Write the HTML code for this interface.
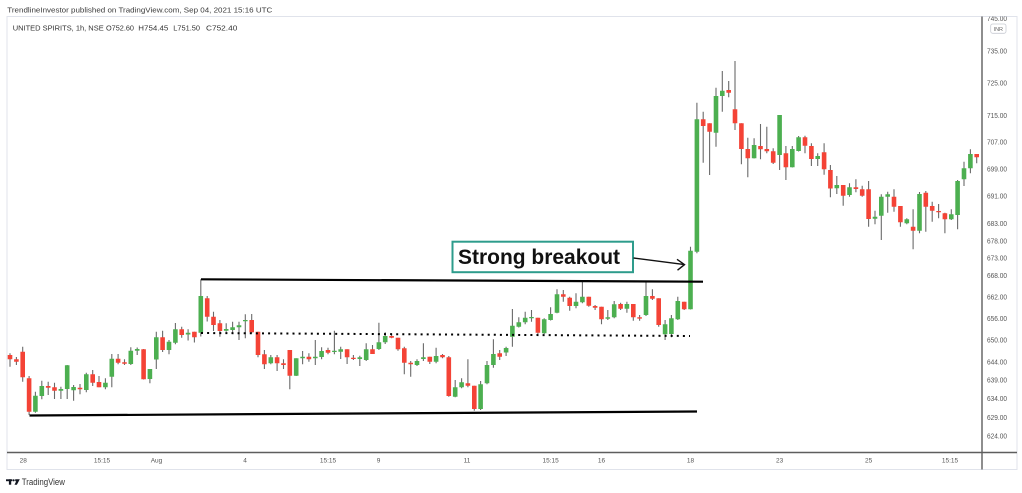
<!DOCTYPE html>
<html><head><meta charset="utf-8"><style>
html,body{margin:0;padding:0;background:#fff;width:1022px;height:493px;overflow:hidden}
svg{display:block;font-family:"Liberation Sans",Arial,sans-serif}
</style></head><body>
<svg width="1022" height="493" viewBox="0 0 1022 493" xmlns="http://www.w3.org/2000/svg">
<defs><clipPath id="pa"><rect x="983" y="16.5" width="34" height="435"/></clipPath></defs>
<rect width="1022" height="493" fill="#fff"/>
<text x="7.3" y="12.6" font-size="7.5" fill="#3a3a3a" textLength="265" lengthAdjust="spacingAndGlyphs">TrendlineInvestor published on TradingView.com, Sep 04, 2021 15:16 UTC</text>
<rect x="7" y="16.5" width="1010" height="453" fill="none" stroke="#e0e3eb" stroke-width="1"/>
<text y="30.5" font-size="7.5" fill="#333"><tspan x="12.7" textLength="91" lengthAdjust="spacingAndGlyphs">UNITED SPIRITS, 1h, NSE</tspan></text>
<text y="30.5" font-size="7.5" fill="#333" x="106" textLength="28" lengthAdjust="spacingAndGlyphs">O752.60</text>
<text y="30.5" font-size="7.5" fill="#333" x="138.3" textLength="30" lengthAdjust="spacingAndGlyphs">H754.45</text>
<text y="30.5" font-size="7.5" fill="#333" x="173.3" textLength="26.7" lengthAdjust="spacingAndGlyphs">L751.50</text>
<text y="30.5" font-size="7.5" fill="#333" x="206" textLength="31.3" lengthAdjust="spacingAndGlyphs">C752.40</text>

<!-- wicks -->
<path fill="none" stroke="#6a6a6a" stroke-width="1.1" d="M10.0 353.3V366.7M16.4 357V365M22.7 346.7V381.7M29.1 376V415M35.4 391.7V412.7M41.8 380.7V399.3M48.2 381.7V395M54.5 382.7V399M60.9 386.7V399M67.2 365V399M73.6 385V400.7M80.0 384V394.3M86.3 372.7V392.3M92.7 370V386M99.0 376V387.3M105.4 378.3V389.3M111.8 354V387.3M118.1 354V364.3M124.5 359.3V365M130.8 347.3V365M137.2 347.5V355M143.6 349V379.5M149.9 369V383.3M156.3 331.7V369M162.6 330.7V352M169.0 340V354.3M175.4 323V344.3M181.7 326.7V337.7M188.1 329.3V340.5M194.4 331.7V342.5M200.8 279.3V336.5M207.2 296V321.5M213.5 311.7V331M219.9 320V336.7M226.2 323.3V331.7M232.6 321.7V333.3M239.0 321.7V340M245.3 314.3V338.3M251.7 314V333.3M258.0 331.7V357.3M264.4 350V369M270.8 355V364.3M277.1 355V371M283.5 359.3V369M289.8 350V389.3M296.2 358.3V376M302.6 351V364.3M308.9 353.3V361.7M315.3 340V365M321.6 347.3V359.3M328.0 347.7V354.3M334.4 330.7V354.3M340.7 346.7V359M347.1 349.3V364M353.4 355V360M359.8 355.7V366M366.2 343.3V361M372.5 345V354M378.9 322.7V350M385.2 332.3V344M391.6 334.3V338.3M398.0 337.7V350.7M404.3 346.7V374.3M410.7 361V376.7M417.0 359.3V366M423.4 343.3V361M429.8 356.7V364M436.1 347.7V363.3M442.5 354V358.3M448.8 356V396.7M455.2 380V397.3M461.6 378.3V388.3M467.9 359.3V387.3M474.3 385.7V410.7M480.6 381V410M487.0 361V384.3M493.4 339.3V367.7M499.7 350V360M506.1 346.7V356M512.4 309V346.7M518.8 317.3V327.5M525.2 311.7V324.3M531.5 310V321.7M537.9 317.7V334M544.2 318.3V334M550.6 307.3V320.5M557.0 289.3V313.3M563.3 290V301.7M569.7 296.7V310.7M576.0 293.3V308.3M582.4 281.7V303.3M588.8 296.7V306.7M595.1 305V310M601.5 306.7V324.3M607.8 310V320M614.2 301V318.3M620.6 302.7V310M626.9 301.7V312.7M633.3 304V320.7M639.6 315V320.7M646.0 281.7V316M652.4 289.3V300M658.7 298.3V326.7M665.1 320V340M671.4 315V337.3M677.8 296.7V320M684.2 301.7V310M690.5 246.7V309.5M696.9 102.7V253.3M703.2 111.7V162.7M709.6 123.3V175M716.0 87.7V146.7M722.3 71V111.7M728.7 81V97.3M735.0 61V130M741.4 123.3V164.3M747.8 137.7V177.3M754.1 138.3V158.5M760.5 124V159.3M766.8 126.7V153.3M773.2 148.3V164M779.6 115V170M785.9 146V180M792.3 146V167.5M798.6 136V151.5M805.0 135.7V153.3M811.4 143.3V166M817.7 153.3V166M824.1 143.3V174.7M830.4 165V197.3M836.8 176V194M843.2 185V205.7M849.5 183.3V196.7M855.9 179.3V192.3M862.2 185.7V196.7M868.6 181V226.7M875.0 210.7V224.3M881.3 194.3V240M887.7 191.7V212.7M894.0 189.3V211.7M900.4 206V226.7M906.8 218.3V224.3M913.1 209.3V249.3M919.5 192V233.3M925.8 191V231.7M932.2 201.7V221.7M938.6 204V218.3M944.9 212.7V233.3M951.3 209.3V220M957.6 180V229.3M964.0 161.7V186M970.4 149.3V173.3M976.7 154V163.3"/>

<!-- green bodies -->
<path fill="#4caf50" d="M33.1 395.7h4.6V411.7h-4.6zM39.5 386h4.6V396h-4.6zM58.6 389h4.6V390.7h-4.6zM64.9 365.3h4.6V389h-4.6zM71.3 387h4.6V390.3h-4.6zM84.0 374.3h4.6V390h-4.6zM103.1 382.7h4.6V387.3h-4.6zM109.5 358.7h4.6V376.7h-4.6zM128.5 350.7h4.6V364h-4.6zM134.9 349h4.6V350.7h-4.6zM147.6 369h4.6V379h-4.6zM154.0 337.3h4.6V359.5h-4.6zM166.7 341.7h4.6V350h-4.6zM173.1 329.3h4.6V342.7h-4.6zM185.8 332.7h4.6V334.5h-4.6zM198.5 296h4.6V332.7h-4.6zM223.9 329h4.6V330.7h-4.6zM230.3 327.3h4.6V330h-4.6zM236.7 325.3h4.6V327.3h-4.6zM243.0 320h4.6V321.3h-4.6zM268.5 357.3h4.6V363.3h-4.6zM293.9 358.3h4.6V375.7h-4.6zM300.3 356.7h4.6V358.3h-4.6zM313.0 356.7h4.6V358.3h-4.6zM319.3 351h4.6V357h-4.6zM332.1 350.7h4.6V352h-4.6zM338.4 349.3h4.6V351.7h-4.6zM357.5 357.3h4.6V359h-4.6zM363.9 349.3h4.6V360h-4.6zM376.6 342.3h4.6V349h-4.6zM382.9 336h4.6V342.3h-4.6zM414.7 361h4.6V365h-4.6zM421.1 357.3h4.6V359h-4.6zM433.8 356h4.6V361.7h-4.6zM452.9 387.3h4.6V396.7h-4.6zM459.3 382.3h4.6V387.3h-4.6zM478.3 384.3h4.6V409h-4.6zM484.7 365h4.6V383.3h-4.6zM491.1 354h4.6V365h-4.6zM503.8 348h4.6V352.5h-4.6zM510.1 325.7h4.6V336.7h-4.6zM516.5 322.3h4.6V326.7h-4.6zM522.9 317.7h4.6V322.3h-4.6zM529.2 317h4.6V318.3h-4.6zM541.9 319.3h4.6V333.3h-4.6zM548.3 314h4.6V320h-4.6zM554.7 294.3h4.6V312.7h-4.6zM573.7 301.7h4.6V306h-4.6zM580.1 296.7h4.6V302.3h-4.6zM605.5 317.3h4.6V318.7h-4.6zM611.9 304.3h4.6V317.3h-4.6zM624.6 304h4.6V308.7h-4.6zM643.7 296h4.6V315h-4.6zM662.8 324.3h4.6V334.3h-4.6zM669.1 318.3h4.6V334h-4.6zM675.5 301h4.6V319.3h-4.6zM688.2 250.7h4.6V309.3h-4.6zM694.6 119.3h4.6V251.7h-4.6zM713.7 96h4.6V132.7h-4.6zM720.0 90.7h4.6V96h-4.6zM751.8 145h4.6V158.3h-4.6zM777.3 115h4.6V155h-4.6zM790.0 149h4.6V167.3h-4.6zM796.3 137.3h4.6V151h-4.6zM815.4 156h4.6V159h-4.6zM834.5 185h4.6V188.3h-4.6zM847.2 187.3h4.6V195h-4.6zM872.7 216.7h4.6V218.7h-4.6zM879.0 196.7h4.6V215.7h-4.6zM885.4 194.3h4.6V196.7h-4.6zM904.5 219.3h4.6V223.3h-4.6zM917.2 194h4.6V230.7h-4.6zM949.0 214.3h4.6V219.3h-4.6zM955.3 181h4.6V215h-4.6zM961.7 168.3h4.6V179.3h-4.6zM968.1 154h4.6V168.3h-4.6z"/>

<!-- red bodies -->
<path fill="#f44336" d="M7.7 355h4.6V359.3h-4.6zM14.1 359.3h4.6V361.7h-4.6zM20.4 351.7h4.6V377.3h-4.6zM26.8 378.3h4.6V411.7h-4.6zM45.9 386h4.6V387.7h-4.6zM52.2 387.3h4.6V390.7h-4.6zM77.7 387.7h4.6V389.3h-4.6zM90.4 374.3h4.6V382.7h-4.6zM96.7 382h4.6V387.3h-4.6zM115.8 358.7h4.6V362.7h-4.6zM122.2 362.3h4.6V363.7h-4.6zM141.3 349.3h4.6V379.3h-4.6zM160.3 337.3h4.6V350h-4.6zM179.4 329.3h4.6V335h-4.6zM192.1 331.7h4.6V337.3h-4.6zM204.9 298.3h4.6V316.7h-4.6zM211.2 316.7h4.6V325h-4.6zM217.6 323.3h4.6V331h-4.6zM249.4 320h4.6V332.3h-4.6zM255.7 331.7h4.6V355h-4.6zM262.1 354.3h4.6V364.3h-4.6zM274.8 357.3h4.6V363.3h-4.6zM281.2 363.3h4.6V365h-4.6zM287.5 350h4.6V375.7h-4.6zM306.6 356.7h4.6V359.3h-4.6zM325.7 350h4.6V352.7h-4.6zM344.8 349.3h4.6V357.3h-4.6zM351.1 357.7h4.6V359h-4.6zM370.2 349.3h4.6V354h-4.6zM389.3 336h4.6V337.7h-4.6zM395.7 337.7h4.6V349.3h-4.6zM402.0 348.3h4.6V362.7h-4.6zM408.4 362.7h4.6V364.3h-4.6zM427.5 356.7h4.6V361.7h-4.6zM440.2 355h4.6V357.3h-4.6zM446.5 357.3h4.6V396h-4.6zM465.6 383.3h4.6V385.7h-4.6zM472.0 385.7h4.6V409h-4.6zM497.4 353.3h4.6V356.7h-4.6zM535.6 317.7h4.6V332.7h-4.6zM561.0 294.3h4.6V296.7h-4.6zM567.4 297.7h4.6V306h-4.6zM586.5 296.7h4.6V305.7h-4.6zM592.8 306h4.6V307.7h-4.6zM599.2 306.7h4.6V319.3h-4.6zM618.3 304h4.6V308.7h-4.6zM631.0 304h4.6V317.3h-4.6zM637.3 317.3h4.6V318.6h-4.6zM650.1 296h4.6V298.7h-4.6zM656.4 298.3h4.6V325h-4.6zM681.9 301.7h4.6V309.3h-4.6zM700.9 119.3h4.6V126h-4.6zM707.3 123.3h4.6V131.7h-4.6zM726.4 90h4.6V92.7h-4.6zM732.7 109.3h4.6V123.3h-4.6zM739.1 123.3h4.6V149h-4.6zM745.5 149h4.6V158.3h-4.6zM758.2 146h4.6V149.3h-4.6zM764.5 149h4.6V151.3h-4.6zM770.9 151.3h4.6V162.7h-4.6zM783.6 153.3h4.6V167.3h-4.6zM802.7 137.3h4.6V145.7h-4.6zM809.1 146h4.6V159h-4.6zM821.8 152.3h4.6V169.3h-4.6zM828.1 170h4.6V188.5h-4.6zM840.9 185h4.6V195.7h-4.6zM853.6 187.3h4.6V189h-4.6zM859.9 189.3h4.6V195.7h-4.6zM866.3 189.3h4.6V219h-4.6zM891.7 196.7h4.6V206.7h-4.6zM898.1 206h4.6V222.3h-4.6zM910.8 226.7h4.6V230.7h-4.6zM923.5 192.7h4.6V206.7h-4.6zM929.9 206h4.6V210.7h-4.6zM936.3 211h4.6V212.3h-4.6zM942.6 213.3h4.6V219.3h-4.6zM974.4 154h4.6V157.3h-4.6z"/>

<!-- drawings -->
<line x1="201" y1="279.3" x2="703" y2="281.7" stroke="#000" stroke-width="2.2"/>
<line x1="29.5" y1="415.5" x2="697" y2="411.5" stroke="#000" stroke-width="2.2"/>
<line x1="201" y1="333" x2="690" y2="336" stroke="#000" stroke-width="2" stroke-dasharray="2 4.1"/>
<rect x="452.5" y="241.7" width="180.5" height="30.5" fill="#fff" stroke="#2e9c8c" stroke-width="2"/>
<text x="458" y="264" font-size="21" font-weight="bold" fill="#111" textLength="162" lengthAdjust="spacingAndGlyphs">Strong breakout</text>
<path d="M633.5 258L684.5 264.6M677 259.3L684.5 264.6L677.5 270.2" fill="none" stroke="#111" stroke-width="1.4" stroke-linejoin="miter"/>

<!-- axes -->
<line x1="7" y1="452.5" x2="1017" y2="452.5" stroke="#5e5e5e" stroke-width="1.4"/>
<line x1="982" y1="16.5" x2="982" y2="469.5" stroke="#5e5e5e" stroke-width="1.4"/>

<g font-size="7" fill="#555">
<g clip-path="url(#pa)"><text x="987" y="21" textLength="20" lengthAdjust="spacingAndGlyphs">745.00</text></g>
<text x="987" y="53.3" textLength="20" lengthAdjust="spacingAndGlyphs">735.00</text>
<text x="987" y="85.5" textLength="20" lengthAdjust="spacingAndGlyphs">725.00</text>
<text x="987" y="118.2" textLength="20" lengthAdjust="spacingAndGlyphs">715.00</text>
<text x="987" y="144.7" textLength="20" lengthAdjust="spacingAndGlyphs">707.00</text>
<text x="987" y="171.5" textLength="20" lengthAdjust="spacingAndGlyphs">699.00</text>
<text x="987" y="198.6" textLength="20" lengthAdjust="spacingAndGlyphs">691.00</text>
<text x="987" y="226" textLength="20" lengthAdjust="spacingAndGlyphs">683.00</text>
<text x="987" y="243.3" textLength="20" lengthAdjust="spacingAndGlyphs">678.00</text>
<text x="987" y="260.7" textLength="20" lengthAdjust="spacingAndGlyphs">673.00</text>
<text x="987" y="278.2" textLength="20" lengthAdjust="spacingAndGlyphs">668.00</text>
<text x="987" y="299.4" textLength="20" lengthAdjust="spacingAndGlyphs">662.00</text>
<text x="987" y="320.8" textLength="20" lengthAdjust="spacingAndGlyphs">656.00</text>
<text x="987" y="342.5" textLength="20" lengthAdjust="spacingAndGlyphs">650.00</text>
<text x="987" y="364.3" textLength="20" lengthAdjust="spacingAndGlyphs">644.00</text>
<text x="987" y="382.6" textLength="20" lengthAdjust="spacingAndGlyphs">639.00</text>
<text x="987" y="401.1" textLength="20" lengthAdjust="spacingAndGlyphs">634.00</text>
<text x="987" y="419.8" textLength="20" lengthAdjust="spacingAndGlyphs">629.00</text>
<text x="987" y="438.5" textLength="20" lengthAdjust="spacingAndGlyphs">624.00</text>
</g>
<rect x="990.7" y="24" width="15.3" height="9.3" rx="2" fill="#fff" stroke="#c8cbd3" stroke-width="0.8"/>
<text x="998.3" y="30.8" font-size="5.5" fill="#666" text-anchor="middle">INR</text>

<g font-size="6.5" fill="#555" text-anchor="middle">
<text x="23.3" y="462.5">28</text>
<text x="102" y="462.5">15:15</text>
<text x="156.5" y="462.5">Aug</text>
<text x="245" y="462.5">4</text>
<text x="328" y="462.5">15:15</text>
<text x="378.5" y="462.5">9</text>
<text x="467" y="462.5">11</text>
<text x="550.6" y="462.5">15:15</text>
<text x="601.5" y="462.5">16</text>
<text x="690.5" y="462.5">18</text>
<text x="779.6" y="462.5">23</text>
<text x="868.6" y="462.5">25</text>
<text x="950" y="462.5">15:15</text>
</g>

<!-- TradingView logo -->
<g fill="#131722">
<rect x="6" y="479.3" width="6.2" height="1.9"/>
<rect x="8.9" y="479.3" width="2.3" height="5.4"/>
<circle cx="13.6" cy="480.3" r="1.1"/>
<polygon points="15.2,479.3 19.8,479.3 16.9,484.7 14.5,484.7 16.2,481.3 15.2,481.3"/>
</g>
<text x="21.7" y="484.8" font-size="8.8" fill="#333" textLength="43.3" lengthAdjust="spacingAndGlyphs">TradingView</text>
</svg>
</body></html>
